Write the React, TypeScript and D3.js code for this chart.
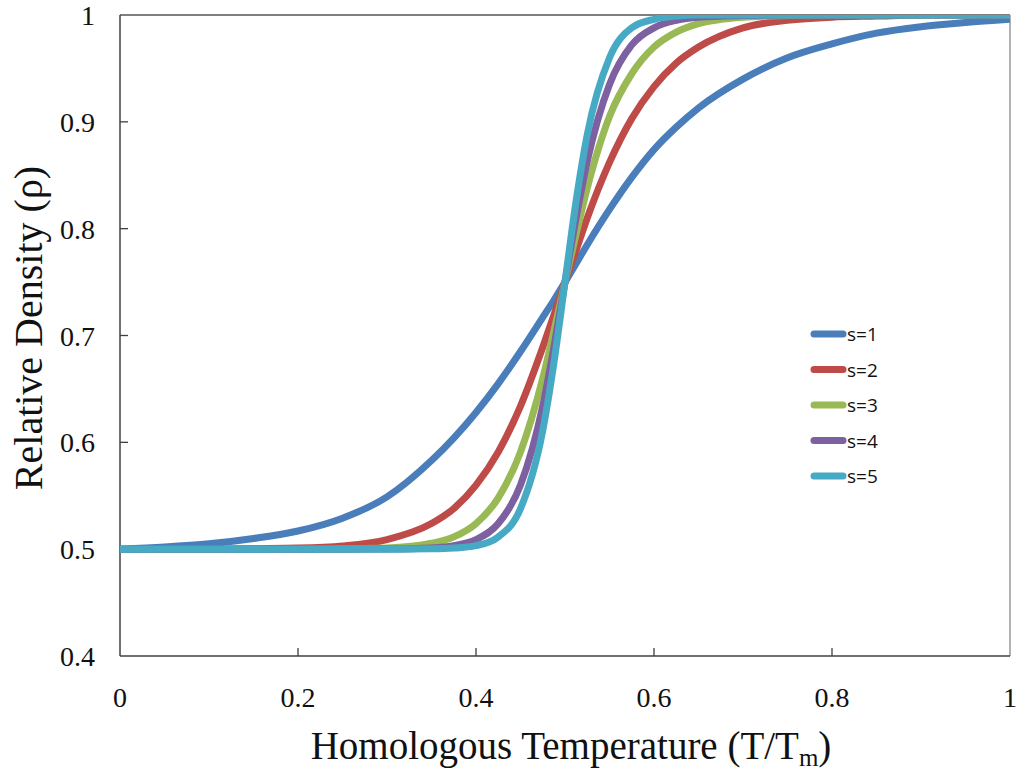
import React from "react";
import * as d3 from "d3";

const temps = [0, 0.05, 0.1, 0.15, 0.2, 0.25, 0.3, 0.35, 0.375, 0.4, 0.425, 0.45, 0.475, 0.4875, 0.5, 0.5125, 0.525, 0.55, 0.575, 0.6, 0.625, 0.65, 0.7, 0.75, 0.8, 0.85, 0.9, 0.95, 1];

const s1 = [0.500, 0.502, 0.505, 0.510, 0.517, 0.529, 0.549, 0.583, 0.604, 0.628, 0.655, 0.685, 0.717, 0.733, 0.750, 0.7675, 0.785, 0.818, 0.848, 0.874, 0.895, 0.913, 0.940, 0.960, 0.973, 0.983, 0.989, 0.993, 0.996];
const s2 = [0.5, 0.5, 0.5, 0.5005, 0.501, 0.503, 0.509, 0.524, 0.538, 0.560, 0.591, 0.634, 0.689, 0.719, 0.750, 0.780, 0.810, 0.862, 0.903, 0.933, 0.955, 0.970, 0.988, 0.995, 0.998, 0.999, 1, 1, 1];
const s3 = [0.5, 0.5, 0.5, 0.5, 0.5, 0.5003, 0.501, 0.5055, 0.5115, 0.524, 0.548, 0.591, 0.660, 0.704, 0.750, 0.795, 0.838, 0.905, 0.945, 0.970, 0.984, 0.992, 0.998, 0.9995, 1, 1, 1, 1, 1];
const s4 = [0.5, 0.5, 0.5, 0.5, 0.5, 0.5, 0.5002, 0.5012, 0.5033, 0.509, 0.524, 0.560, 0.634, 0.689, 0.750, 0.810, 0.863, 0.935, 0.972, 0.988, 0.995, 0.998, 0.9995, 1, 1, 1, 1, 1, 1];
const s5 = [0.5, 0.5, 0.5, 0.5, 0.5, 0.5, 0.5, 0.5003, 0.501, 0.5033, 0.5115, 0.538, 0.611, 0.674, 0.750, 0.826, 0.888, 0.960, 0.988, 0.996, 0.999, 1, 1, 1, 1, 1, 1, 1, 1];

const seriesNames = ["s=1", "s=2", "s=3", "s=4", "s=5"];
const seriesValues = [s1, s2, s3, s4, s5];
const seriesColors = ["#4A7EBB", "#BE4B48", "#98B954", "#7D60A0", "#46AAC5"];

const xTicks = [0, 0.2, 0.4, 0.6, 0.8, 1];
const xTickLabels = ["0", "0.2", "0.4", "0.6", "0.8", "1"];
const yTicks = [0.4, 0.5, 0.6, 0.7, 0.8, 0.9, 1];
const yTickLabels = ["0.4", "0.5", "0.6", "0.7", "0.8", "0.9", "1"];

const W = 1026;
const H = 774;
const L = 120, R = 1010, T = 15, B = 656;

export default function App() {
  const x = d3.scaleLinear().domain([0, 1]).range([L, R]);
  const y = d3.scaleLinear().domain([0.4, 1]).range([B, T]);
  const line = d3
    .line<[number, number]>()
    .x((d) => x(d[0]))
    .y((d) => y(d[1]))
    .curve(d3.curveMonotoneX);

  const serif = "'Liberation Serif', 'Times New Roman', serif";
  const sans = "'Open Sans', 'Liberation Sans', sans-serif";

  return (
    <svg width={W} height={H} style={{ position: "absolute", left: 0, top: 0, background: "#fff" }}>
      <defs>
        <clipPath id="plotClip">
          <rect x={L} y={T} width={R - L} height={B - T} />
        </clipPath>
      </defs>
      <rect x={0} y={0} width={W} height={H} fill="#fff" />
      {/* frame */}
      <line x1={L} y1={T} x2={R} y2={T} stroke="#555" strokeWidth={1.5} />
      <line x1={R} y1={T} x2={R} y2={B} stroke="#999" strokeWidth={1.5} />
      <line x1={L} y1={T} x2={L} y2={B} stroke="#404040" strokeWidth={1.5} />
      <line x1={L} y1={B} x2={R} y2={B} stroke="#404040" strokeWidth={1.5} />
      {/* y ticks */}
      {yTicks.map((t, i) => (
        <g key={"y" + i}>
          {i > 0 && i < yTicks.length - 1 && (
            <line x1={L} x2={L + 8} y1={y(t)} y2={y(t)} stroke="#404040" strokeWidth={1.3} />
          )}
          <text x={95} y={y(t) + 10} textAnchor="end" fontFamily={serif} fontSize={28} fill="#111">
            {yTickLabels[i]}
          </text>
        </g>
      ))}
      {/* x ticks */}
      {xTicks.map((t, i) => (
        <g key={"x" + i}>
          {i > 0 && i < xTicks.length - 1 && (
            <line x1={x(t)} x2={x(t)} y1={B} y2={B - 8} stroke="#404040" strokeWidth={1.3} />
          )}
          <text x={x(t)} y={707} textAnchor="middle" fontFamily={serif} fontSize={28} fill="#111">
            {xTickLabels[i]}
          </text>
        </g>
      ))}
      {/* curves */}
      <g clipPath="url(#plotClip)">
        {seriesValues.map((vals, si) => (
          <path
            key={"s" + si}
            d={line(temps.map((t, i) => [t, vals[i]] as [number, number])) || ""}
            fill="none"
            stroke={seriesColors[si]}
            strokeWidth={7}
            strokeLinejoin="round"
            strokeLinecap="round"
          />
        ))}
      </g>
      {/* legend */}
      {seriesNames.map((n, i) => (
        <g key={"l" + i} transform={`translate(0, ${334 + i * 35.5})`}>
          <line x1={814} x2={843} y1={0} y2={0} stroke={seriesColors[i]} strokeWidth={7} strokeLinecap="round" />
          <text x={847} y={7} fontFamily={sans} fontSize={19} fill="#111">
            {n}
          </text>
        </g>
      ))}
      {/* axis titles */}
      <text x={571} y={759} textAnchor="middle" fontFamily={serif} fontSize={39} fill="#111">
        Homologous Temperature (T/T
        <tspan fontSize={25} dy={7}>m</tspan>
        <tspan dy={-7}>)</tspan>
      </text>
      <text
        transform={`translate(42, 328) rotate(-90)`}
        textAnchor="middle"
        fontFamily={serif}
        fontSize={40}
        fill="#111"
      >
        Relative Density (ρ)
      </text>
    </svg>
  );
}
